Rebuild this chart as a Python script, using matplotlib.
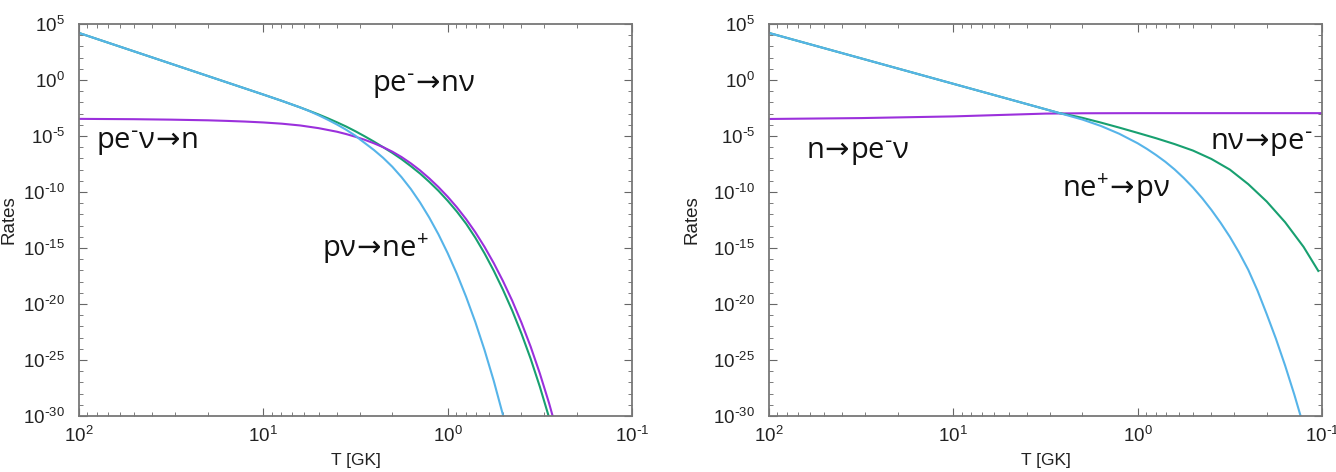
import numpy as np
import matplotlib
matplotlib.use("Agg")
import matplotlib.pyplot as plt
from matplotlib.ticker import LogLocator, NullFormatter, FuncFormatter, FixedLocator

plt.rcParams["font.family"] = ["Liberation Sans", "DejaVu Sans"]
plt.rcParams["mathtext.default"] = "regular"

# ---- data: log10 T [GK] and log10 rate ----
# left panel
left_blue_logT = [2.0, 1.5, 1.0, 0.9, 0.8, 0.75, 0.7, 0.65, 0.6, 0.55, 0.5, 0.476, 0.4, 0.35,
                  0.3, 0.25, 0.2, 0.15, 0.1, 0.05, 0.0, -0.05, -0.1, -0.15, -0.2, -0.25,
                  -0.3, -0.35]
left_blue_logR = [4.2, 1.45, -1.3, -1.86, -2.45, -2.78, -3.15, -3.55, -3.98, -4.45, -4.98, -5.3, -6.25, -6.95,
                  -7.75, -8.68, -9.73, -10.93, -12.28, -13.78, -15.46, -17.31, -19.36, -21.61, -24.11, -26.86,
                  -29.91, -33.26]

left_green_logT = [2.0, 1.5, 1.0, 0.9, 0.8, 0.75, 0.7, 0.65, 0.6, 0.55, 0.5, 0.45, 0.4, 0.35,
                   0.3, 0.25, 0.2, 0.15, 0.1, 0.05, 0.0, -0.05, -0.1, -0.15, -0.2, -0.25,
                   -0.3, -0.35, -0.4, -0.45, -0.5, -0.55]
left_green_logR = [4.2, 1.45, -1.3, -1.86, -2.45, -2.76, -3.08, -3.42, -3.78, -4.16, -4.58, -5.03, -5.5, -6.0,
                   -6.51, -7.07, -7.69, -8.35, -9.09, -9.89, -10.78, -11.75, -12.83, -14.08, -15.48, -17.03,
                   -18.73, -20.58, -22.63, -24.88, -27.38, -30.13]

left_purple_logT = [2.0, 1.7, 1.5, 1.3, 1.2, 1.1, 1.0, 0.9, 0.8, 0.7, 0.6, 0.55, 0.5, 0.45, 0.4, 0.35,
                    0.3, 0.25, 0.2, 0.15, 0.1, 0.05, 0.0, -0.05, -0.1, -0.15, -0.2, -0.25,
                    -0.3, -0.35, -0.4, -0.45, -0.5, -0.55, -0.6]
left_purple_logR = [-3.47, -3.5, -3.54, -3.6, -3.65, -3.71, -3.79, -3.9, -4.06, -4.3, -4.62, -4.83, -5.07, -5.34, -5.65, -6.0,
                    -6.4, -6.88, -7.44, -8.07, -8.78, -9.56, -10.42, -11.37, -12.42, -13.59, -14.9, -16.35,
                    -17.95, -19.7, -21.65, -23.8, -26.2, -28.85, -31.8]

# right panel
right_blue_logT = [2.0, 1.5, 1.0, 0.7, 0.421, 0.3, 0.2, 0.1, 0.0, -0.05, -0.1, -0.15, -0.2, -0.25,
                   -0.3, -0.35, -0.4, -0.45, -0.5, -0.55, -0.6, -0.65, -0.7, -0.75, -0.8, -0.85, -0.9]
right_blue_logR = [4.2, 1.93, -0.34, -1.7, -2.97, -3.53, -4.1, -4.8, -5.65, -6.15, -6.7, -7.3, -7.98, -8.75,
                   -9.6, -10.55, -11.6, -12.75, -14.0, -15.4, -16.95, -18.8, -20.9, -23.1, -25.5, -28.1, -30.9]

right_green_logT = [2.0, 1.5, 1.0, 0.7, 0.421, 0.35, 0.3, 0.2, 0.1, 0.0, -0.1, -0.2, -0.3,
                    -0.4, -0.5, -0.6, -0.7, -0.8, -0.9, -0.98]
right_green_logR = [4.2, 1.93, -0.34, -1.7, -2.97, -3.2, -3.38, -3.8, -4.25, -4.72, -5.2, -5.72, -6.3,
                    -7.05, -8.0, -9.3, -10.85, -12.7, -14.9, -17.05]

right_purple_logT = [2.0, 1.5, 1.0, 0.7, 0.5, 0.3, 0.0, -1.0]
right_purple_logR = [-3.48, -3.4, -3.25, -3.1, -3.0, -2.97, -2.96, -2.96]

# axis ticks
x_major = [100, 10, 1, 0.1]
y_major = [1e5, 1e0, 1e-5, 1e-10, 1e-15, 1e-20, 1e-25, 1e-30]

c_blue = "#56b4e9"
c_green = "#18a070"
c_purple = "#9b30dc"

label_font = ["Open Sans", "DejaVu Sans"]


def sci(v, pos):
    e = int(round(np.log10(v)))
    if e < 0:
        return r"$10^{\text{-}%d}$" % (-e)
    return r"$10^{%d}$" % e


fig = plt.figure(figsize=(13.36, 4.72), dpi=100)
ax1 = fig.add_axes([79 / 1336, 56 / 472, 553 / 1336, 392 / 472])
ax2 = fig.add_axes([769 / 1336, 56 / 472, 553 / 1336, 392 / 472])


def draw(ax, curves, ylab_x):
    for lt, lr, col in curves:
        ax.plot(np.power(10.0, lt), np.power(10.0, lr), color=col, lw=1.5)
    ax.set_xscale("log")
    ax.set_yscale("log")
    ax.set_xlim(100, 0.1)
    ax.set_ylim(1e-30, 1e5)
    ax.yaxis.set_major_locator(FixedLocator(y_major))
    ax.yaxis.set_minor_locator(LogLocator(base=10, subs=(1.0,), numticks=50))
    ax.yaxis.set_minor_formatter(NullFormatter())
    ax.xaxis.set_major_locator(FixedLocator(x_major))
    ax.xaxis.set_minor_locator(LogLocator(base=10, subs=np.arange(2, 10), numticks=20))
    ax.xaxis.set_minor_formatter(NullFormatter())
    ax.xaxis.set_major_formatter(FuncFormatter(sci))
    ax.yaxis.set_major_formatter(FuncFormatter(sci))
    ax.tick_params(which="both", direction="in", top=True, right=True,
                   color="#666666", labelsize=13.5, labelcolor="#222222")
    ax.tick_params(which="major", length=6, width=0.8)
    ax.tick_params(which="minor", length=3, width=0.6)
    ax.tick_params(axis="y", pad=10)
    ax.tick_params(axis="x", pad=7)
    for s in ax.spines.values():
        s.set_color("#777777")
        s.set_linewidth(1.3)
    ax.set_xlabel("T [GK]", fontsize=12.5, color="#222222")
    ax.xaxis.set_label_coords(0.5, -(460 - 416) / 392)
    ax.xaxis.label.set_va("center")
    ax.set_ylabel("Rates", fontsize=13.5, color="#222222")
    ax.yaxis.set_label_coords(ylab_x, 0.5)
    ax.yaxis.label.set_va("center")


draw(ax1, [(left_green_logT, left_green_logR, c_green),
           (left_purple_logT, left_purple_logR, c_purple),
           (left_blue_logT, left_blue_logR, c_blue)], (9 - 79) / 553)
draw(ax2, [(right_purple_logT, right_purple_logR, c_purple),
           (right_green_logT, right_green_logR, c_green),
           (right_blue_logT, right_blue_logR, c_blue)], (692 - 769) / 553)

fs = 21
arrow = r"$\!\mathrm{\rightarrow}\!$"
em = r"$^{\text{-}}$"
ep = r"$^{+}$"


def put(ax, x0, px, py, s):
    ax.text((px - x0) / 553, 1 - (py - 24) / 392, s, transform=ax.transAxes,
            fontsize=fs, family=label_font, va="baseline", ha="left", color="#111111")


put(ax1, 79, 372, 92, "pe" + em + arrow + "nν")
put(ax1, 79, 96, 149, "pe" + em + "ν" + arrow + "n")
put(ax1, 79, 322, 257, "pν" + arrow + "ne" + ep)

put(ax2, 769, 806, 159, "n" + arrow + "pe" + em + "ν")
put(ax2, 769, 1210, 150, "nν" + arrow + "pe" + em)
put(ax2, 769, 1062, 197, "ne" + ep + arrow + "pν")

fig.savefig("out.png", dpi=100)
